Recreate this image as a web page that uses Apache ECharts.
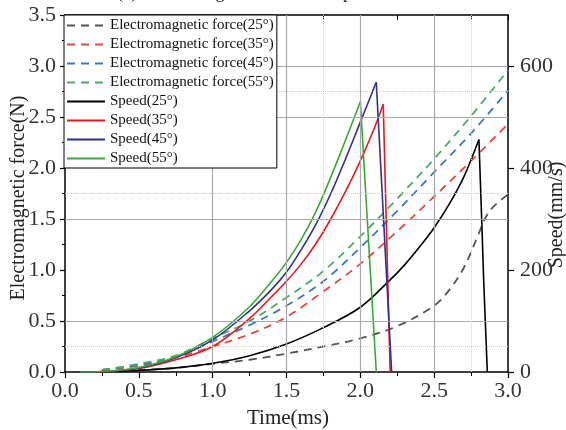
<!DOCTYPE html>
<html>
<head>
<meta charset="utf-8">
<script src="https://cdn.jsdelivr.net/npm/echarts@6/dist/echarts.min.js"></script>
<style>html,body{margin:0;padding:0;background:#fff}#c{width:566px;height:430px}</style>
</head>
<body>
<div id="c"></div>
<script>
// ---- data ----
const titleText = '(a) Electromagnetic force and speed';
const xTicks = [0, 3, 0.5];          // min, max, interval (ms)
const yTicksForce = [0, 3.5, 0.5];   // N
const yTicksSpeed = [0, 700, 200];   // mm/s

const tForce = [0.25, 0.5, 0.75, 1.0, 1.25, 1.5, 1.75, 2.0, 2.25, 2.5, 2.75, 3.0];
const force35 = [0.02, 0.06, 0.14, 0.25, 0.37, 0.54, 0.79, 1.06, 1.38, 1.72, 2.07, 2.43];
const force45 = [0.02, 0.07, 0.15, 0.30, 0.46, 0.65, 0.89, 1.22, 1.58, 1.96, 2.34, 2.76];
const force55 = [0.02, 0.08, 0.16, 0.33, 0.50, 0.73, 0.99, 1.33, 1.70, 2.09, 2.51, 2.96];
const tForce25 = [0.3, 0.5, 0.75, 1.0, 1.25, 1.5, 1.75, 2.0, 2.25, 2.5, 2.6, 2.7, 2.8, 2.85, 2.9, 3.0];
const force25 = [0.0, 0.02, 0.04, 0.08, 0.12, 0.18, 0.25, 0.33, 0.45, 0.65, 0.80, 1.02, 1.35, 1.52, 1.62, 1.74];

const tSpeed25 = [0.1, 0.25, 0.5, 0.75, 1.0, 1.25, 1.5, 1.75, 2.0, 2.2, 2.3, 2.4, 2.5, 2.6, 2.7, 2.803, 2.822, 2.836, 2.86];
const speed25 = [0, 0.5, 3, 8, 17, 32, 55, 87, 127, 180, 210, 245, 283, 328, 382, 456, 298, 174, 0];
const tSpeed35 = [0.1, 0.25, 0.5, 0.75, 1.0, 1.25, 1.4, 1.5, 1.6, 1.7, 1.8, 1.9, 2.0, 2.1, 2.155, 2.202];
const speed35 = [0, 1, 7, 24, 50, 105, 148, 178, 212, 252, 300, 354, 414, 482, 525, 0];
const tSpeed45 = [0.1, 0.25, 0.5, 0.75, 1.0, 1.25, 1.4, 1.5, 1.6, 1.7, 1.8, 1.9, 2.0, 2.108, 2.212];
const speed45 = [0, 1, 8, 28, 63, 120, 162, 196, 240, 290, 350, 418, 490, 568, 0];
const tSpeed55 = [0.1, 0.25, 0.5, 0.75, 1.0, 1.25, 1.4, 1.5, 1.6, 1.7, 1.8, 1.9, 2.0, 2.108];
const speed55 = [0, 1, 9, 30, 68, 128, 178, 215, 260, 315, 382, 455, 530, 0];

const gridSolidY = [0.5, 1.5, 2.5, 3.0];
const gridDottedY = [0.25, 1.75, 2.75];
const gridSolidX = [1.0, 1.5, 2.0, 2.5];
const gridDottedX = [1.75, 2.75];

// ---- chart ----
const FONT = "'Liberation Serif','Times New Roman',serif";
const zip = (xs, ys) => xs.map((x, i) => [x, ys[i]]);
const names = ['Electromagnetic force(25°)', 'Electromagnetic force(35°)', 'Electromagnetic force(45°)', 'Electromagnetic force(55°)',
  'Speed(25°)', 'Speed(35°)', 'Speed(45°)', 'Speed(55°)'];

function dashed(name, data, color) {
  return { name, type: 'line', data, yAxisIndex: 0, xAxisIndex: 0, showSymbol: false, symbol: 'none',
    smooth: 0.35, z: 3,
    lineStyle: { color, width: 1.8, type: [8, 6] }, itemStyle: { color } };
}
// speed curves: smooth rising branch up to the peak, straight falling branch after it
function solidPair(name, ts, vs, color) {
  const pk = vs.indexOf(Math.max(...vs));
  const pts = zip(ts, vs);
  const base = { name, type: 'line', yAxisIndex: 1, xAxisIndex: 0, showSymbol: false, symbol: 'none', z: 4,
    lineStyle: { color, width: 1.6 }, itemStyle: { color } };
  return [
    Object.assign({}, base, { data: pts.slice(0, pk + 1), smooth: 0.35 }),
    Object.assign({}, base, { data: pts.slice(pk), smooth: false })
  ];
}
const mlSolid = { color: '#a9a9a9', width: 1.2, type: 'solid' };
const mlDot = { color: '#cfcfcf', width: 1, type: 'dotted' };

const chart = echarts.init(document.getElementById('c'), null, { renderer: 'canvas' });
chart.setOption({
  animation: false,
  backgroundColor: '#fff',
  grid: { left: 65, right: 58, top: 15, bottom: 58, containLabel: false },
  legend: {
    data: names, orient: 'vertical', left: 64, top: 15,
    backgroundColor: '#fff', borderColor: '#000', borderWidth: 1, borderRadius: 0,
    padding: [3, 3, 2, 2], itemWidth: 38, itemHeight: 14, itemGap: 4,
    itemStyle: { opacity: 0, borderWidth: 0 },
    textStyle: { fontFamily: FONT, fontSize: 15, color: '#111' }, z: 10
  },
  xAxis: [
    { type: 'value', min: xTicks[0], max: xTicks[1], interval: xTicks[2], position: 'bottom',
      axisLine: { onZero: false, lineStyle: { color: '#000', width: 1.5 } },
      axisTick: { show: true, inside: false, length: 6, lineStyle: { color: '#000', width: 1.2 } },
      minorTick: { show: true, splitNumber: 2, length: 4, lineStyle: { color: '#000', width: 1 } },
      axisLabel: { fontFamily: FONT, fontSize: 22, color: '#333', margin: 8, formatter: v => v.toFixed(1) },
      splitLine: { show: false } },
    { type: 'value', min: xTicks[0], max: xTicks[1], interval: xTicks[2] / 2, position: 'top',
      axisLine: { onZero: false, lineStyle: { color: '#000', width: 1.5 } },
      axisTick: { show: true, inside: true, length: 5, lineStyle: { color: '#000', width: 1 } },
      axisLabel: { show: false }, splitLine: { show: false } }
  ],
  yAxis: [
    { type: 'value', min: yTicksForce[0], max: yTicksForce[1], interval: yTicksForce[2], position: 'left',
      axisLine: { show: true, onZero: false, lineStyle: { color: '#000', width: 1.5 } },
      axisTick: { show: true, inside: false, length: 5, lineStyle: { color: '#000', width: 1.2 } },
      minorTick: { show: true, splitNumber: 2, length: 3, lineStyle: { color: '#000', width: 1 } },
      axisLabel: { fontFamily: FONT, fontSize: 22, color: '#333', margin: 9, formatter: v => v.toFixed(1) },
      splitLine: { show: false } },
    { type: 'value', min: yTicksSpeed[0], max: yTicksSpeed[1], interval: yTicksSpeed[2], position: 'right',
      axisLine: { show: true, onZero: false, lineStyle: { color: '#000', width: 1.5 } },
      axisTick: { show: true, inside: false, length: 6, lineStyle: { color: '#000', width: 1.2 } },
      axisLabel: { fontFamily: FONT, fontSize: 22, color: '#333', margin: 12, showMaxLabel: false },
      splitLine: { show: false } }
  ],
  graphic: [
    { type: 'text', left: 117, top: -16, silent: true,
      style: { text: titleText, font: '18px ' + FONT, fill: '#222' } },
    { type: 'text', x: 19, y: 198, rotation: Math.PI / 2, silent: true,
      style: { text: 'Electromagnetic force(N)', font: '20px ' + FONT, fill: '#222', align: 'center', verticalAlign: 'middle' } },
    { type: 'text', x: 288, y: 418, silent: true,
      style: { text: 'Time(ms)', font: '21px ' + FONT, fill: '#222', align: 'center', verticalAlign: 'middle' } },
    { type: 'text', x: 557, y: 215, rotation: Math.PI / 2, silent: true,
      style: { text: 'Speed(mm/s)', font: '20px ' + FONT, fill: '#222', align: 'center', verticalAlign: 'middle' } }
  ],
  series: [
    { name: 'gridlines', type: 'line', data: [], xAxisIndex: 0, yAxisIndex: 0, z: 1, silent: true,
      markLine: { silent: true, symbol: 'none', label: { show: false }, animation: false,
        data: [
          ...gridSolidY.map(v => ({ yAxis: v, lineStyle: mlSolid })),
          ...gridDottedY.map(v => ({ yAxis: v, lineStyle: mlDot })),
          ...gridSolidX.map(v => ({ xAxis: v, lineStyle: mlSolid })),
          ...gridDottedX.map(v => ({ xAxis: v, lineStyle: mlDot }))
        ] } },
    dashed(names[0], zip(tForce25, force25), '#555555'),
    dashed(names[1], zip(tForce, force35), '#e5483f'),
    dashed(names[2], zip(tForce, force45), '#3d76c6'),
    dashed(names[3], zip(tForce, force55), '#4caa68'),
    ...solidPair(names[4], tSpeed25, speed25, '#000000'),
    ...solidPair(names[5], tSpeed35, speed35, '#e8191e'),
    ...solidPair(names[6], tSpeed45, speed45, '#2e3192'),
    ...solidPair(names[7], tSpeed55, speed55, '#39a935')
  ]
});
</script>
</body>
</html>
